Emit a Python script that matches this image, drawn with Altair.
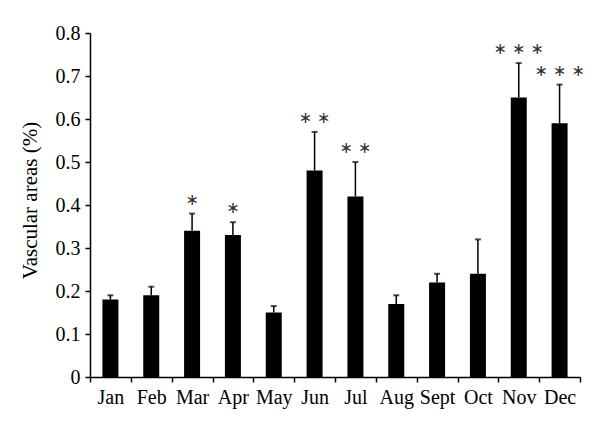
import altair as alt
import pandas as pd

months = ["Jan", "Feb", "Mar", "Apr", "May", "Jun", "Jul", "Aug", "Sept", "Oct", "Nov", "Dec"]
values = [0.18, 0.19, 0.34, 0.33, 0.15, 0.48, 0.42, 0.17, 0.22, 0.24, 0.65, 0.59]
upper = [0.19, 0.21, 0.38, 0.36, 0.165, 0.57, 0.50, 0.19, 0.24, 0.32, 0.73, 0.68]
stars = ["", "", "∗", "∗", "", "∗ ∗", "∗ ∗", "", "", "", "∗ ∗ ∗", "∗ ∗ ∗"]

df = pd.DataFrame({"month": months, "value": values, "upper": upper, "stars": stars})

FONT = "Liberation Serif"

x = alt.X("month:N", sort=months, title=None,
          scale=alt.Scale(paddingInner=0, paddingOuter=0),
          axis=alt.Axis(labelAngle=0, tickBand="extent", labelPadding=5))
y_axis = alt.Axis(values=[0, 0.1, 0.2, 0.3, 0.4, 0.5, 0.6, 0.7, 0.8], format=".1~f",
                  grid=False, labelPadding=5, title="Vascular areas (%)",
                  titleX=-60, titleY=167, titleAngle=-90, titleAlign="center",
                  titleBaseline="middle")

base = alt.Chart(df).encode(x=x)

bars = base.mark_bar(color="black", width=16).encode(
    y=alt.Y("value:Q", scale=alt.Scale(domain=[0, 0.8], nice=False), axis=y_axis)
)
err = base.mark_rule(color="black", strokeWidth=1.5).encode(y="value:Q", y2="upper:Q")
cap = base.mark_tick(color="black", size=6, thickness=2, orient="horizontal").encode(y="upper:Q")
txt = base.mark_text(font="DejaVu Sans", fontSize=16, dy=-14, baseline="middle",
                     color="#333333").encode(y="upper:Q", text="stars:N")

chart = alt.layer(bars, err, cap, txt).properties(
    width=490, height=344,
    autosize=alt.AutoSizeParams(type="none"),
    padding={"left": 82, "top": 25, "right": 10, "bottom": 40},
).configure_view(stroke=None).configure_axis(
    labelFont=FONT, labelFontSize=20, labelColor="black",
    titleFont=FONT, titleFontSize=21, titleFontWeight="normal", titleColor="black",
    domainColor="black", tickColor="black", tickSize=5, domainWidth=1.5, tickWidth=1.5,
)

chart.save("out.html", embed_options={"renderer": "svg", "actions": False})
